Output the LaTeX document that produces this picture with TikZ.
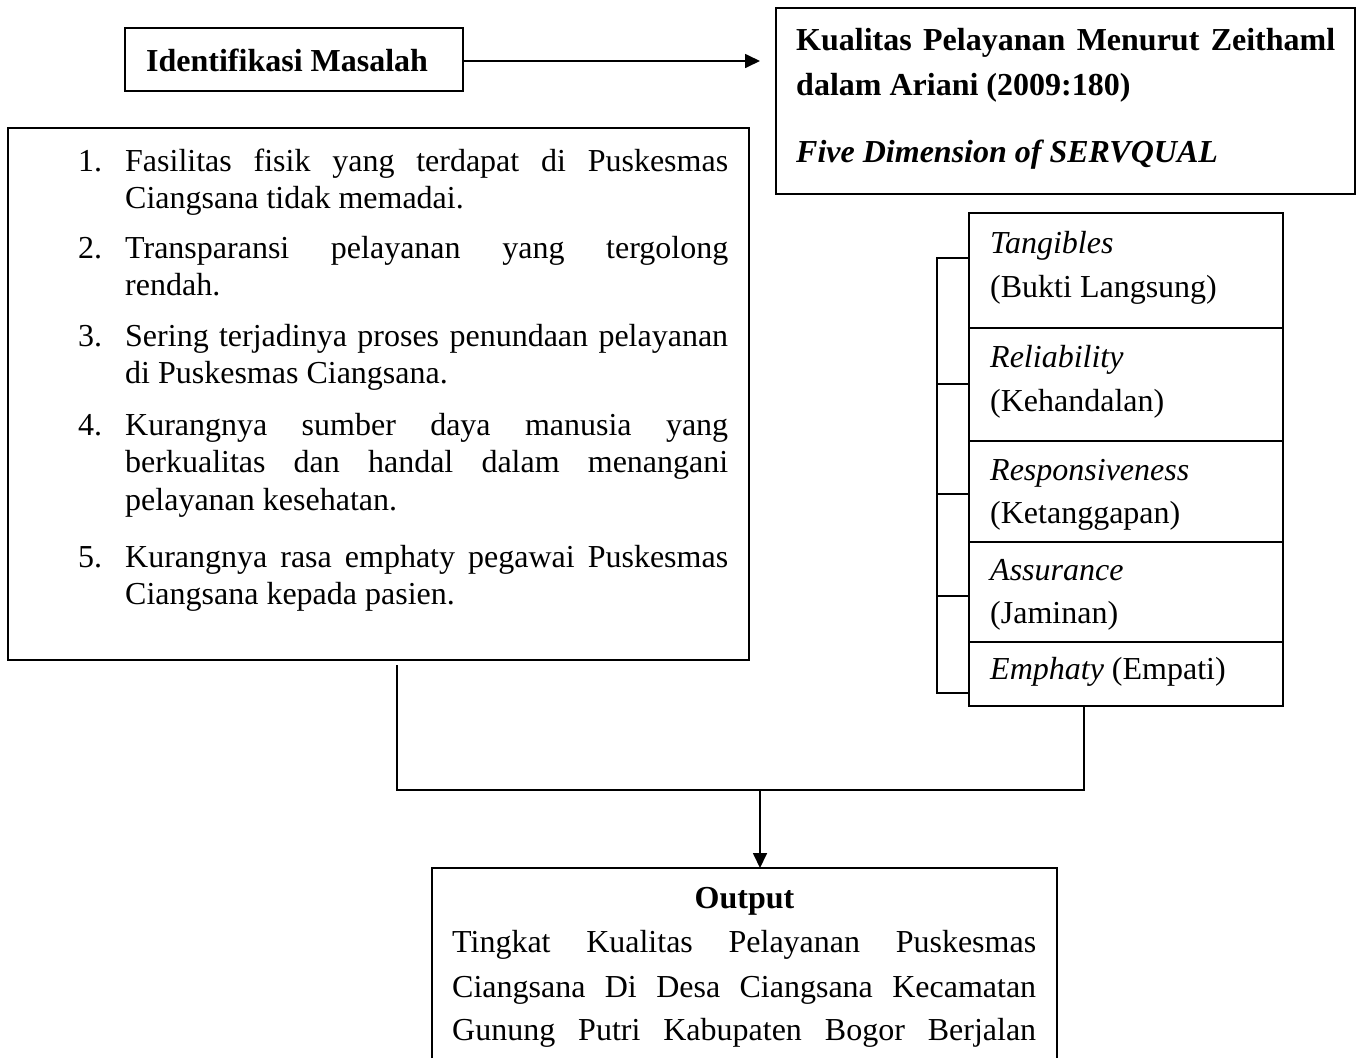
\documentclass[tikz,border=0pt]{standalone}
\usepackage{fontspec}
\setmainfont{Liberation Serif}
\usetikzlibrary{arrows.meta}
\begin{document}
\begin{tikzpicture}[x=1pt,y=-1pt,
  box/.style={draw,line width=1.5pt,inner sep=0pt,outer sep=0pt},
  conn/.style={line width=1.7pt},
  arr/.style={line width=1.7pt,-{Triangle[length=15pt,width=14pt]}},
  txt/.style={inner sep=0pt,anchor=base west,font=\fontsize{32pt}{38pt}\selectfont},
  ctxt/.style={inner sep=0pt,anchor=base,font=\fontsize{32pt}{38pt}\selectfont}]
\useasboundingbox (0,0) rectangle (1365,1058);

% boxes
\node[box,minimum width=338pt,minimum height=63pt] (idbox) at (294,59.5) {};
\node[box,minimum width=579pt,minimum height=186pt] (kbox) at (1065.5,101) {};
\node[box,minimum width=741pt,minimum height=532pt] (listbox) at (378.5,394) {};
\node[box,minimum width=314pt,minimum height=115pt] (d1) at (1126,270.5) {};
\node[box,minimum width=314pt,minimum height=113pt] (d2) at (1126,384.5) {};
\node[box,minimum width=314pt,minimum height=101pt] (d3) at (1126,491.5) {};
\node[box,minimum width=314pt,minimum height=100pt] (d4) at (1126,592) {};
\node[box,minimum width=314pt,minimum height=64pt] (d5) at (1126,674) {};
\node[inner sep=0pt,outer sep=0pt,minimum width=625pt,minimum height=190pt] (outbox) at (744.5,963) {};
\draw[line width=1.5pt] (outbox.south west) -- (outbox.north west) -- (outbox.north east) -- (outbox.south east);

% texts
\node[txt,font=\fontsize{32pt}{38pt}\selectfont\bfseries] (idtext) at (146,71.5) {Identifikasi Masalah};

\node[txt,font=\fontsize{32pt}{38pt}\selectfont\bfseries] (k1) at (796,50) {\makebox[539pt][s]{Kualitas Pelayanan Menurut Zeithaml}};
\node[txt,font=\fontsize{32pt}{38pt}\selectfont\bfseries] (k2) at (796,95) {dalam Ariani (2009:180)};
\node[txt,font=\fontsize{32pt}{38pt}\selectfont\bfseries\itshape] (k3) at (796,162) {Five Dimension of SERVQUAL};

\node[txt] (n1) at (78,171) {1.};
\node[txt] (l1a) at (125,171) {\makebox[603pt][s]{Fasilitas fisik yang terdapat di Puskesmas}};
\node[txt] (l1b) at (125,208) {Ciangsana tidak memadai.};
\node[txt] (n2) at (78,258) {2.};
\node[txt] (l2a) at (125,258) {\makebox[603pt][s]{Transparansi pelayanan yang tergolong}};
\node[txt] (l2b) at (125,295) {rendah.};
\node[txt] (n3) at (78,346) {3.};
\node[txt] (l3a) at (125,346) {\makebox[603pt][s]{Sering terjadinya proses penundaan pelayanan}};
\node[txt] (l3b) at (125,383) {di Puskesmas Ciangsana.};
\node[txt] (n4) at (78,435) {4.};
\node[txt] (l4a) at (125,435) {\makebox[603pt][s]{Kurangnya sumber daya manusia yang}};
\node[txt] (l4b) at (125,472) {\makebox[603pt][s]{berkualitas dan handal dalam menangani}};
\node[txt] (l4c) at (125,510) {pelayanan kesehatan.};
\node[txt] (n5) at (78,567) {5.};
\node[txt] (l5a) at (125,567) {\makebox[603pt][s]{Kurangnya rasa emphaty pegawai Puskesmas}};
\node[txt] (l5b) at (125,604) {Ciangsana kepada pasien.};

\node[txt] (t1a) at (990,253) {\textit{Tangibles}};
\node[txt] (t1b) at (990,297) {(Bukti Langsung)};
\node[txt] (t2a) at (990,367) {\textit{Reliability}};
\node[txt] (t2b) at (990,411) {(Kehandalan)};
\node[txt] (t3a) at (990,480) {\textit{Responsiveness}};
\node[txt] (t3b) at (990,523) {(Ketanggapan)};
\node[txt] (t4a) at (990,580) {\textit{Assurance}};
\node[txt] (t4b) at (990,623) {(Jaminan)};
\node[txt] (t5) at (990,679) {\textit{Emphaty} (Empati)};

\node[ctxt,font=\fontsize{32pt}{38pt}\selectfont\bfseries] (otitle) at (744.5,908) {Output};
\node[txt] (o1) at (452,952) {\makebox[584pt][s]{Tingkat Kualitas Pelayanan Puskesmas}};
\node[txt] (o2) at (452,997) {\makebox[584pt][s]{Ciangsana Di Desa Ciangsana Kecamatan}};
\node[txt] (o3) at (452,1040) {\makebox[584pt][s]{Gunung Putri Kabupaten Bogor Berjalan}};

% bracket beside the dimensions
\coordinate (bt) at (937,258);
\coordinate (bb) at (937,693);
\draw[line width=1.5pt] (bt -| d1.west) -- (bt) -- (bb) -- (bb -| d5.west);
\foreach \yy in {384,494,596} \draw[line width=1.5pt] (937,\yy) -- (969,\yy);

% connectors
\draw[arr,shorten >=16pt] ([yshift=-1.5pt]idbox.east) -- ([yshift=-1.5pt]idbox.east -| kbox.west);
\coordinate (a1) at (397,665);
\coordinate (a2) at (397,790);
\coordinate (b1) at (1084,706);
\coordinate (b2) at (1084,790);
\coordinate (mid) at (760,790);
\draw[conn] (a1) -- (a2) -- (b2) -- (b1);
\draw[arr] (mid) -- (mid |- outbox.north);
\end{tikzpicture}
\end{document}
